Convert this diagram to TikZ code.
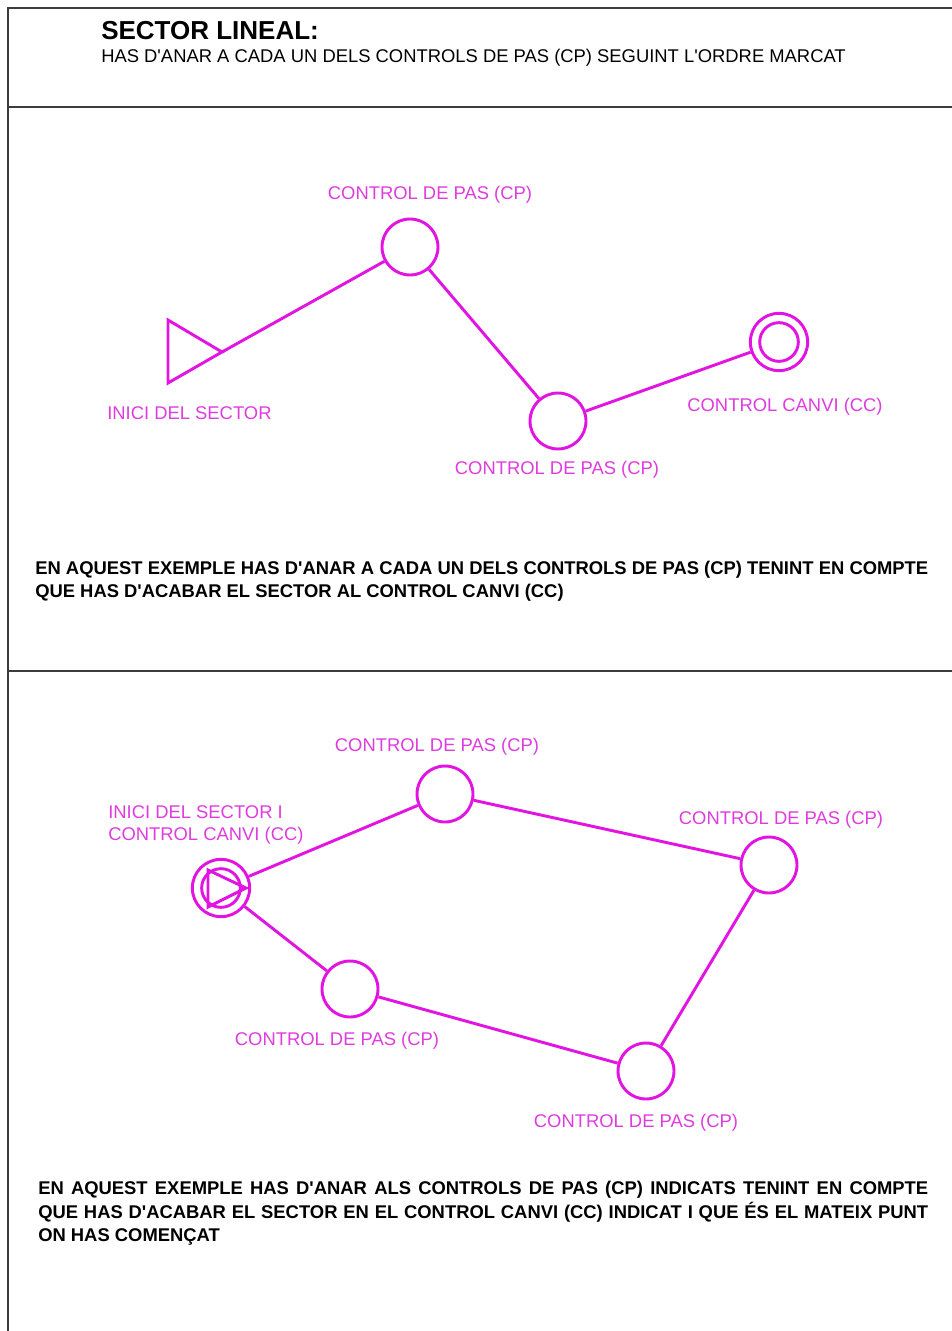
\documentclass[tikz,border=0pt]{standalone}
\usepackage{fontspec}
\setmainfont{Liberation Sans}[Ligatures=TeXOff]
\definecolor{mag}{RGB}{226,20,226}
\definecolor{magtext}{RGB}{222,60,222}
\definecolor{framec}{RGB}{60,60,60}
\begin{document}
\begin{tikzpicture}[x=0.75pt,y=-0.75pt,
  cp/.style={circle,draw=mag,line width=2.2pt,minimum size=42pt,inner sep=0pt},
  ccout/.style={circle,draw=mag,line width=2.2pt,minimum size=43pt,inner sep=0pt},
  ccin/.style={circle,draw=mag,line width=2.2pt,minimum size=29pt,inner sep=0pt},
  conn/.style={draw=mag,line width=2.2pt},
  lbl/.style={text=magtext,font=\fontsize{13.8pt}{16pt}\selectfont,inner sep=0pt},
  body/.style={font=\bfseries\fontsize{13.8pt}{16pt}\selectfont,inner sep=0pt,anchor=base west},
  frame/.style={draw=framec,line width=1.4pt}]
\useasboundingbox (0,0) rectangle (952,1331);
% frame
\coordinate (ftl) at (8,8);
\coordinate (ftr) at (952,8);
\coordinate (fbl) at (8,1331);
\coordinate (s1l) at (8,107);
\coordinate (s1r) at (952,107);
\coordinate (s2l) at (8,671);
\coordinate (s2r) at (952,671);
\draw[frame] (ftr) -- (ftl) -- (fbl);
\draw[frame] (s1l) -- (s1r);
\draw[frame] (s2l) -- (s2r);
% header
\node[font=\bfseries\fontsize{19.5pt}{22pt}\selectfont,inner sep=0pt,anchor=base west] (title) at (101,40) {SECTOR LINEAL:};
\node[font=\fontsize{13.8pt}{16pt}\selectfont,inner sep=0pt,anchor=base west] (sub) at (101,63) {HAS D'ANAR A CADA UN DELS CONTROLS DE PAS (CP) SEGUINT L'ORDRE MARCAT};
% ---------- example 1 ----------
\coordinate (t1a) at (168,320);
\coordinate (t1b) at (168,383);
\coordinate (tip) at (222,352);
\draw[conn,line join=miter] (t1a) -- (tip) -- (t1b) -- cycle;
\node[cp] (a1) at (410,247) {};
\node[cp] (a2) at (558,421) {};
\node[ccout] (acc) at (779,342) {};
\node[ccin] (acci) at (779,342) {};
\draw[conn] (tip) -- (a1);
\draw[conn] (a1) -- (a2);
\draw[conn] (a2) -- (acc);
\node[lbl,anchor=base] (la1) at (430,199) {CONTROL DE PAS (CP)};
\node[lbl,anchor=base west] (lstart) at (107,419) {INICI DEL SECTOR};
\node[lbl,anchor=base] (la2) at (557,474) {CONTROL DE PAS (CP)};
\node[lbl,anchor=base] (lacc) at (785,411) {CONTROL CANVI (CC)};
\node[body] (b1l1) at (35,574) {\makebox[669.75pt][s]{EN AQUEST EXEMPLE HAS D'ANAR A CADA UN DELS CONTROLS DE PAS (CP) TENINT EN COMPTE}};
\node[body] (b1l2) at (35,597) {QUE HAS D'ACABAR EL SECTOR AL CONTROL CANVI (CC)};
% ---------- example 2 ----------
\node[ccout] (bs) at (221,888) {};
\node[ccin] (bsi) at (221,888) {};
\coordinate (t2a) at (208,870);
\coordinate (t2b) at (208,907);
\coordinate (t2c) at (246,888);
\draw[conn,line join=miter] (t2a) -- (t2c) -- (t2b) -- cycle;
\node[cp] (c1) at (445,794) {};
\node[cp] (c2) at (769,865) {};
\node[cp] (c3) at (646,1071) {};
\node[cp] (c4) at (350,989) {};
\draw[conn] (bs) -- (c1);
\draw[conn] (c1) -- (c2);
\draw[conn] (c2) -- (c3);
\draw[conn] (c3) -- (c4);
\draw[conn] (c4) -- (bs);
\node[lbl,anchor=base west] (ls1) at (108,818) {INICI DEL SECTOR I};
\node[lbl,anchor=base west] (ls2) at (108,840) {CONTROL CANVI (CC)};
\node[lbl,anchor=base] (lc1) at (437,751) {CONTROL DE PAS (CP)};
\node[lbl,anchor=base] (lc2) at (781,824) {CONTROL DE PAS (CP)};
\node[lbl,anchor=base] (lc4) at (337,1045) {CONTROL DE PAS (CP)};
\node[lbl,anchor=base] (lc3) at (636,1127) {CONTROL DE PAS (CP)};
\node[body] (b2l1) at (38,1194) {\makebox[667.5pt][s]{EN AQUEST EXEMPLE HAS D'ANAR ALS CONTROLS DE PAS (CP) INDICATS TENINT EN COMPTE}};
\node[body] (b2l2) at (38,1218) {\makebox[667.5pt][s]{QUE HAS D'ACABAR EL SECTOR EN EL CONTROL CANVI (CC) INDICAT I QUE ÉS EL MATEIX PUNT}};
\node[body] (b2l3) at (38,1241) {ON HAS COMENÇAT};
\end{tikzpicture}
\end{document}
